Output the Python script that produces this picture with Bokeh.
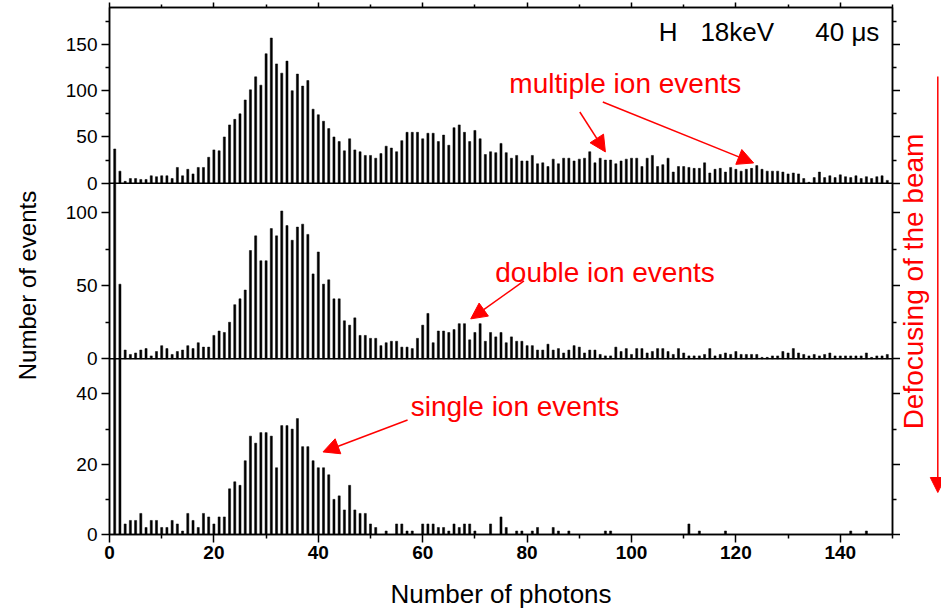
import numpy as np
from bokeh.plotting import figure
from bokeh.layouts import row
from bokeh.models import (FixedTicker, LinearAxis, Range1d, Label, Arrow, NormalHead,
                          Span, CustomJSTickFormatter)
from bokeh.embed import file_html
from bokeh.resources import INLINE
from bokeh.core.properties import value

# ---------------- data ----------------
photons = list(range(1, 150))

multiple_events = [
    37, 13, 2, 5, 5, 4, 4, 8, 7, 8,
    8, 5, 17, 8, 15, 10, 17, 17, 28, 36,
    35, 50, 63, 69, 75, 90, 101, 115, 106, 140,
    157, 129, 119, 132, 100, 118, 105, 111, 80, 74,
    67, 59, 50, 45, 35, 48, 36, 34, 30, 30,
    27, 32, 40, 38, 34, 46, 55, 55, 55, 48,
    54, 54, 45, 52, 41, 60, 63, 55, 45, 57,
    48, 31, 34, 33, 43, 33, 27, 30, 24, 24,
    30, 21, 22, 18, 26, 21, 27, 27, 24, 26,
    27, 34, 22, 27, 25, 25, 21, 24, 26, 27,
    27, 18, 27, 30, 18, 20, 27, 12, 18, 18,
    17, 16, 16, 22, 11, 15, 16, 12, 17, 15,
    13, 15, 16, 19, 15, 13, 13, 13, 12, 10,
    11, 10, 5, 1, 6, 12, 6, 8, 6, 9,
    7, 6, 8, 5, 7, 5, 7, 8, 3,
]

double_events = [
    180, 51, 6, 3, 4, 6, 7, 2, 5, 9,
    7, 3, 5, 6, 9, 7, 11, 8, 8, 16,
    19, 18, 25, 37, 41, 47, 74, 84, 67, 67,
    89, 84, 101, 91, 81, 90, 92, 85, 58, 73,
    51, 54, 41, 41, 26, 23, 28, 16, 16, 14,
    14, 9, 11, 12, 12, 8, 8, 7, 14, 23,
    31, 11, 19, 19, 18, 20, 24, 24, 13, 18,
    24, 12, 18, 15, 18, 11, 15, 12, 12, 9,
    9, 6, 6, 10, 6, 7, 4, 6, 9, 8,
    4, 6, 6, 3, 2, 2, 8, 5, 7, 3,
    7, 7, 4, 5, 7, 7, 5, 3, 7, 4,
    2, 2, 2, 3, 7, 2, 3, 4, 3, 5,
    3, 3, 3, 3, 1, 1, 2, 2, 5, 4,
    7, 4, 3, 2, 3, 2, 3, 4, 2, 2,
    2, 2, 2, 2, 4, 1, 2, 2, 3,
]

single_events = [
    200, 70, 3, 4, 4, 6, 2, 4, 4, 2,
    2, 4, 3, 1, 6, 4, 2, 6, 5, 3,
    5, 5, 13, 15, 14, 21, 28, 26, 29, 29,
    28, 19, 31, 31, 30, 33, 25, 25, 21, 19,
    19, 17, 10, 11, 7, 14, 7, 6, 6, 3,
    2, 0, 1, 0, 3, 3, 1, 1, 0, 3,
    3, 3, 2, 2, 1, 3, 2, 3, 3, 1,
    0, 0, 3, 0, 5, 2, 0, 1, 1, 0,
    1, 2, 0, 0, 2, 1, 0, 1, 0, 0,
    0, 0, 0, 0, 1, 1, 0, 0, 0, 0,
    0, 0, 0, 0, 0, 0, 0, 0, 0, 0,
    3, 0, 1, 0, 0, 0, 0, 1, 0, 0,
    0, 0, 0, 0, 0, 0, 0, 0, 0, 0,
    0, 0, 0, 0, 0, 0, 0, 0, 0, 0,
    0, 1, 0, 0, 1, 0, 0, 0, 0,
]

x_major_ticks = [0, 20, 40, 60, 80, 100, 120, 140]
x_minor_ticks = [10, 30, 50, 70, 90, 110, 130, 150]
top_ticks, top_minor, top_max = [0, 50, 100, 150], [25, 75, 125, 175], 190
mid_ticks, mid_minor, mid_max = [0, 50, 100], [25, 75], 120
bot_ticks, bot_minor, bot_max = [0, 20, 40], [10, 30], 50

FONT = "Liberation Sans"
RED = "#ff0000"
H = 614
TOP_B, BOT_B = 7, 80          # borders above / below the frame

# ---------------- main frame: three stacked panels ----------------
p = figure(frame_width=783, frame_height=H - TOP_B - BOT_B,
           x_range=Range1d(0, 150), y_range=Range1d(0, 3),
           output_backend="svg", toolbar_location=None,
           x_axis_location=None, y_axis_location=None,
           min_border_left=59, min_border_right=8,
           min_border_top=TOP_B, min_border_bottom=BOT_B)
p.extra_y_ranges = {
    "bot": Range1d(0, 3 * bot_max),
    "mid": Range1d(-mid_max, 2 * mid_max),
    "top": Range1d(-2 * top_max, top_max),
}
p.grid.grid_line_color = None
p.outline_line_color = "black"
p.outline_line_width = 1.5
p.background_fill_color = "white"
p.border_fill_color = "white"

for vals, cap, name in [(multiple_events, top_max, "top"),
                        (double_events, mid_max, "mid"),
                        (single_events, bot_max, "bot")]:
    p.vbar(x=photons, top=np.minimum(vals, cap), bottom=0, width=0.4,
           y_range_name=name, fill_color="black", line_color="black", line_width=0.5)

for loc in (1, 2):
    p.add_layout(Span(location=loc, dimension="width", line_color="black", line_width=1.5))


def style_axis(ax):
    ax.axis_line_color = "black"
    ax.axis_line_width = 1.5
    ax.major_tick_line_width = 1.5
    ax.minor_tick_line_width = 1.5
    ax.major_tick_in = 0
    ax.minor_tick_in = 0
    ax.major_tick_out = 8
    ax.minor_tick_out = 4
    ax.major_label_text_font = FONT
    ax.major_label_text_color = "black"
    ax.axis_label_text_font = FONT
    ax.axis_label_text_font_style = "normal"
    ax.axis_label_text_color = "black"


y_major = ([v / bot_max for v in bot_ticks] + [1 + v / mid_max for v in mid_ticks]
           + [2 + v / top_max for v in top_ticks])
y_minor = ([v / bot_max for v in bot_minor] + [1 + v / mid_max for v in mid_minor]
           + [2 + v / top_max for v in top_minor])

panel_fmt = CustomJSTickFormatter(args=dict(maxes=[bot_max, mid_max, top_max]), code="""
    const k = Math.min(2, Math.floor(tick + 1e-6));
    return String(Math.round((tick - k) * maxes[k]));
""")
blank_fmt = CustomJSTickFormatter(code="return '';")

lax = LinearAxis(ticker=FixedTicker(ticks=y_major, minor_ticks=y_minor), formatter=panel_fmt)
style_axis(lax)
lax.major_label_text_font_size = "19px"
lax.major_label_standoff = 4
p.add_layout(lax, "left")

rax = LinearAxis(ticker=FixedTicker(ticks=y_major, minor_ticks=y_minor), formatter=blank_fmt)
style_axis(rax)
rax.major_label_text_font_size = "2px"
rax.major_label_standoff = 0
p.add_layout(rax, "right")

tax = LinearAxis(ticker=FixedTicker(ticks=x_major_ticks, minor_ticks=x_minor_ticks),
                 formatter=blank_fmt)
style_axis(tax)
tax.major_tick_out = 5
tax.minor_tick_out = 3
tax.major_label_text_font_size = "1px"
tax.major_label_standoff = 0
p.add_layout(tax, "above")

bax = LinearAxis(ticker=FixedTicker(ticks=x_major_ticks, minor_ticks=x_minor_ticks),
                 axis_label="Number of photons")
style_axis(bax)
bax.major_label_text_font_size = "19px"
bax.major_label_text_font_style = "bold"
bax.major_label_standoff = 3
bax.axis_label_text_font_size = "26px"
bax.axis_label_standoff = 17
p.add_layout(bax, "below")

# header text
for txt, xx in [("H", 105.2), ("18keV", 113.2), ("40 \u03bcs", 135.2)]:
    p.add_layout(Label(x=xx, y=163, y_range_name="top", text=txt, text_font=FONT,
                       text_font_size="26px", text_color="black", text_baseline="alphabetic"))

# annotations
for txt, xx, yy, rng in [("multiple ion events", 76.6, 108, "top"),
                         ("double ion events", 73.9, 59, "mid"),
                         ("single ion events", 57.7, 36.5, "bot")]:
    p.add_layout(Label(x=xx, y=yy, y_range_name=rng, text=txt, text_font=FONT,
                       text_font_size="28px", text_color=RED, text_baseline="alphabetic"))


def red_arrow(xs, ys, xe, ye, rng, size=16):
    p.add_layout(Arrow(x_start=xs, y_start=ys, x_end=xe, y_end=ye, y_range_name=rng,
                       line_color=RED, line_width=1.5,
                       end=NormalHead(size=size, fill_color=RED, line_color=RED)))


red_arrow(90.1, 77, 95.0, 33.8, "top")
red_arrow(94.5, 87.8, 123.4, 21.9, "top")
red_arrow(79.4, 53.2, 69.2, 27.3, "mid")
red_arrow(57.1, 32.6, 40.9, 23.5, "bot")


def side_figure(width):
    # same vertical frame as the main plot; y measured in pixels from the page bottom
    s = figure(width=width, height=H, x_range=Range1d(0, width),
               y_range=Range1d(BOT_B, H - TOP_B),
               output_backend="svg", toolbar_location=None,
               x_axis_location=None, y_axis_location=None,
               min_border_left=0, min_border_right=0,
               min_border_top=TOP_B, min_border_bottom=BOT_B)
    s.grid.grid_line_color = None
    s.outline_line_color = None
    s.border_fill_color = "white"
    s.background_fill_color = "white"
    return s


# left: y title
left = side_figure(50)
left.text(x=[27], y=[H - 285], text=["Number of events"], angle=np.pi / 2,
          text_align="center", text_baseline="middle", text_color="black",
          text_font=value(FONT), text_font_size="24px")

# right: beam defocusing note
right = side_figure(41)
right.text(x=[13], y=[H - 281], text=["Defocusing of the beam"], angle=np.pi / 2,
           text_align="center", text_baseline="middle", text_color=RED,
           text_font=value(FONT), text_font_size="28px")
right.add_layout(Arrow(x_start=37.3, y_start=H - 76, x_end=37.3, y_end=H - 492,
                       line_color=RED, line_width=1.5,
                       end=NormalHead(size=15, fill_color=RED, line_color=RED)))

layout = row(left, p, right, spacing=0)

with open("out.html", "w") as f:
    f.write(file_html(layout, INLINE))
